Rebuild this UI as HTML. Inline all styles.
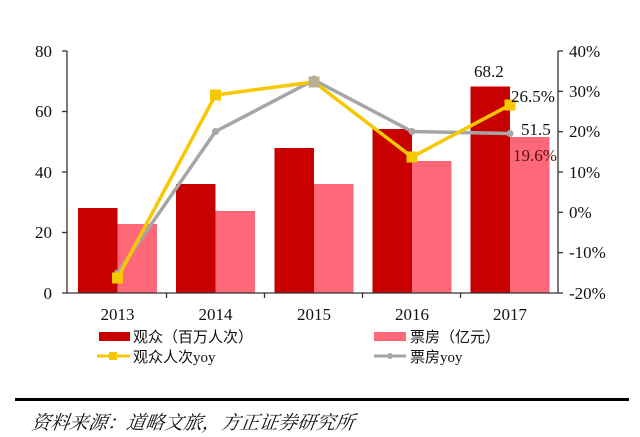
<!DOCTYPE html>
<html><head><meta charset="utf-8"><style>
html,body{margin:0;padding:0;background:#fff;}
svg{display:block;}
text{font-family:"Liberation Serif","Noto Serif CJK SC",serif;fill:#111;}
.c{font-family:"Liberation Serif","Noto Sans CJK SC",serif;}
.s{font-family:"Liberation Serif","Noto Serif CJK SC",serif;}
</style></head><body>
<svg width="640" height="437" viewBox="0 0 640 437">
<rect width="640" height="437" fill="#fff"/>
<g fill="#c80000">
<rect x="78" y="208" width="39.5" height="85"/>
<rect x="176" y="184" width="39.5" height="109"/>
<rect x="274.5" y="148" width="39.5" height="145"/>
<rect x="372.5" y="129" width="39.5" height="164"/>
<rect x="470.5" y="86.5" width="39.5" height="206.5"/>
</g>
<g fill="#ff6878">
<rect x="117.5" y="224" width="39.5" height="69"/>
<rect x="215.5" y="211" width="39.5" height="82"/>
<rect x="314" y="184" width="39.5" height="109"/>
<rect x="412" y="161" width="39.5" height="132"/>
<rect x="510" y="137" width="39.5" height="156"/>
</g>
<g stroke="#333" stroke-width="1.3" fill="none">
<line x1="67" y1="51" x2="67" y2="293"/>
<line x1="558" y1="51" x2="558" y2="293"/>
<line x1="67" y1="293" x2="558" y2="293"/>
<line x1="62" y1="51" x2="67" y2="51"/><line x1="62" y1="111.5" x2="67" y2="111.5"/><line x1="62" y1="172" x2="67" y2="172"/><line x1="62" y1="232.5" x2="67" y2="232.5"/><line x1="62" y1="293" x2="67" y2="293"/>
<line x1="558" y1="51" x2="563" y2="51"/><line x1="558" y1="91.3" x2="563" y2="91.3"/><line x1="558" y1="131.7" x2="563" y2="131.7"/><line x1="558" y1="172" x2="563" y2="172"/><line x1="558" y1="212.3" x2="563" y2="212.3"/><line x1="558" y1="252.7" x2="563" y2="252.7"/><line x1="558" y1="293" x2="563" y2="293"/>
<line x1="166.5" y1="293" x2="166.5" y2="298"/><line x1="264.5" y1="293" x2="264.5" y2="298"/><line x1="362.5" y1="293" x2="362.5" y2="298"/><line x1="460.5" y1="293" x2="460.5" y2="298"/>
</g>
<polyline points="117.5,273 215.5,131.5 314,80 412,131.5 510,133.5" fill="none" stroke="#a6a6a6" stroke-width="3.5"/>
<g fill="#a6a6a6"><circle cx="117.5" cy="273" r="3.5"/><circle cx="215.5" cy="131.5" r="3.5"/><circle cx="314" cy="80" r="4.5"/><circle cx="412" cy="131.5" r="3.5"/><circle cx="510" cy="133.5" r="3.5"/></g>
<polyline points="117.5,278 215.5,95 314,82 412,157 510,105" fill="none" stroke="#f5c800" stroke-width="3.5"/>
<g fill="#f5c800"><rect x="112" y="272.5" width="11" height="11"/><rect x="210" y="89.5" width="11" height="11"/><rect x="308.5" y="76.5" width="11" height="11" fill="#b8b090"/><rect x="406.5" y="151.5" width="11" height="11"/><rect x="504.5" y="99.5" width="11" height="11"/></g>
<g font-size="17" text-anchor="end">
<text x="52" y="57">80</text><text x="52" y="117">60</text><text x="52" y="178">40</text><text x="52" y="238">20</text><text x="52" y="299">0</text>
</g>
<g font-size="17">
<text x="569" y="57">40%</text><text x="569" y="97">30%</text><text x="569" y="137">20%</text><text x="569" y="178">10%</text><text x="569" y="218">0%</text><text x="569" y="258">-10%</text><text x="569" y="299">-20%</text>
</g>
<g font-size="17" text-anchor="middle">
<text x="117.5" y="320">2013</text><text x="215.5" y="320">2014</text><text x="314" y="320">2015</text><text x="412" y="320">2016</text><text x="510" y="320">2017</text>
</g>
<g font-size="17">
<text x="474" y="77">68.2</text>
<text x="511" y="102">26.5%</text>
<text x="521" y="135">51.5</text>
<text x="513" y="161" style="fill:#5a1010">19.6%</text>
</g>
<rect x="99" y="332" width="31" height="9" fill="#c80000"/>
<text class="c" x="133" y="342" font-size="15">观众（百万人次）</text>
<rect x="374" y="332" width="32" height="9" fill="#ff6878"/>
<text class="c" x="410" y="342" font-size="15">票房（亿元）</text>
<line x1="97" y1="356" x2="130" y2="356" stroke="#f5c800" stroke-width="3"/>
<rect x="109" y="352" width="8" height="8" fill="#f5c800"/>
<text class="c" x="133" y="362" font-size="15">观众人次yoy</text>
<line x1="374" y1="356" x2="406" y2="356" stroke="#a6a6a6" stroke-width="3"/>
<circle cx="390" cy="356" r="3" fill="#a6a6a6"/>
<text class="c" x="410" y="362" font-size="15">票房yoy</text>
<rect x="15" y="398" width="614" height="3" fill="#000"/>
<text class="s" x="35" y="429" font-size="19" font-style="italic" transform="skewX(-8) translate(56,0)">资料来源：道略文旅，方正证券研究所</text>
</svg>
</body></html>
